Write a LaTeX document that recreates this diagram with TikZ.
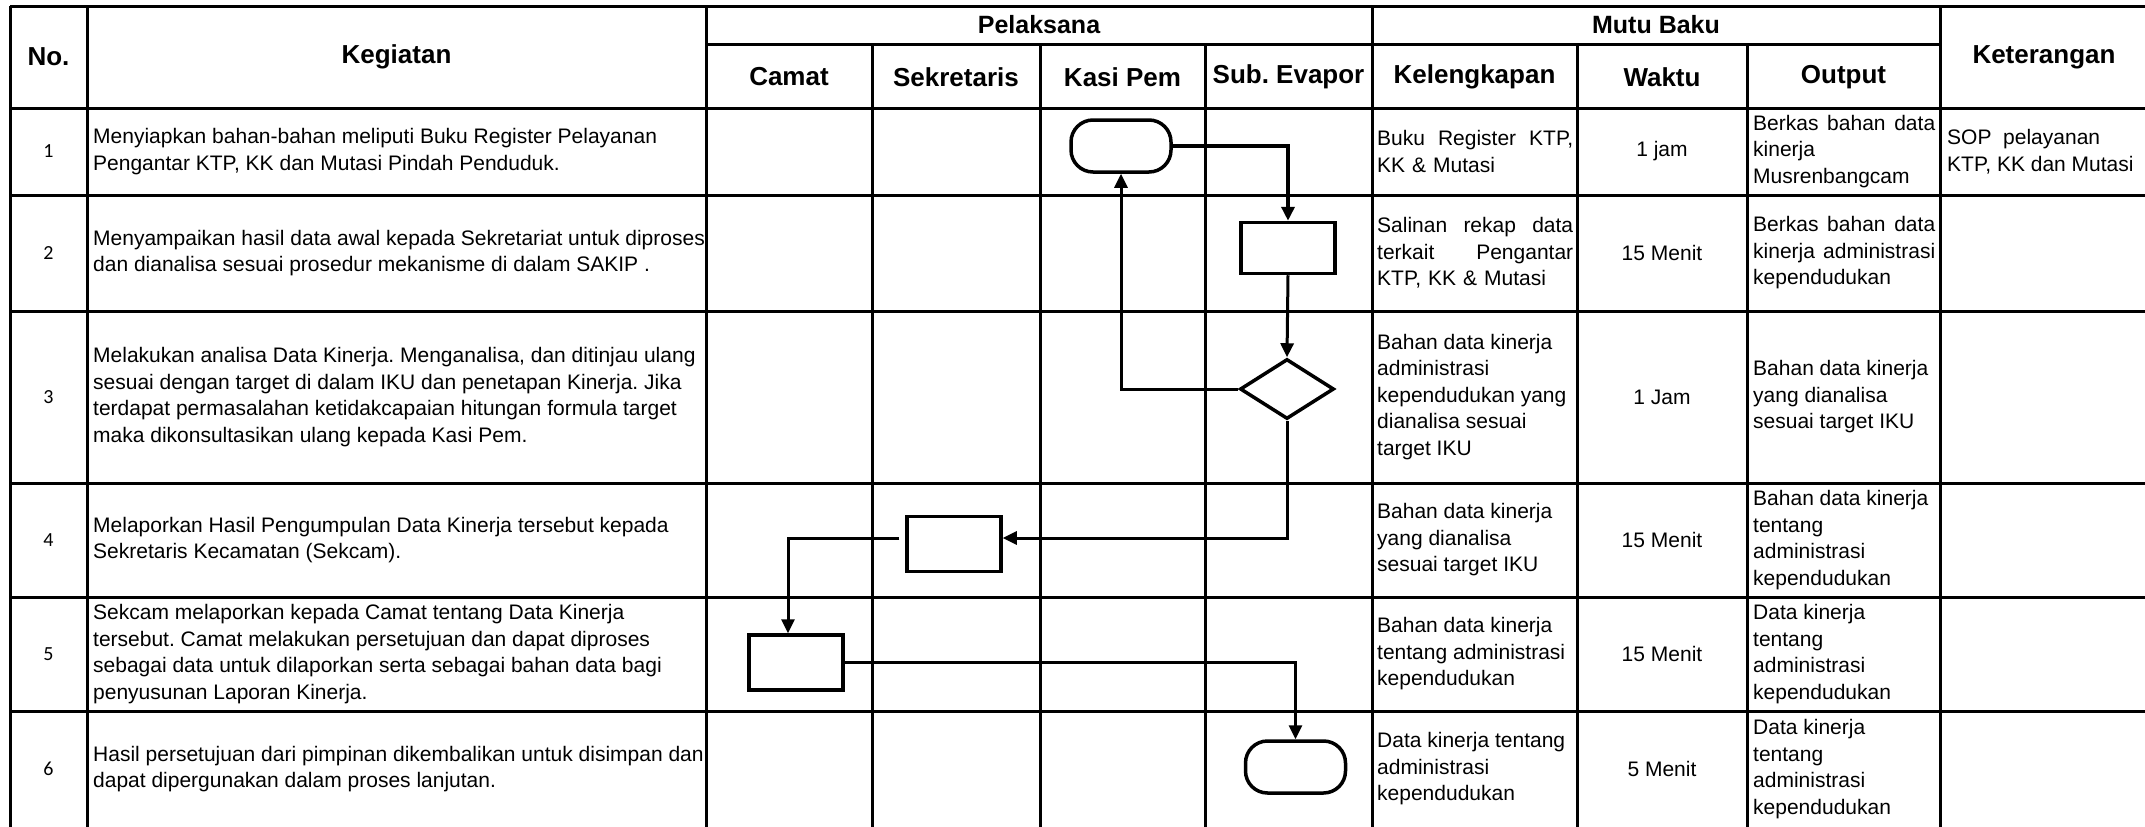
\documentclass[tikz,border=0pt]{standalone}
\usepackage{fontspec}
\setmainfont{Liberation Sans}
\newfontfamily\numfont{Carlito}
\usetikzlibrary{shapes.geometric,arrows.meta}
\frenchspacing

\begin{document}
\begin{tikzpicture}[x=1pt,y=1pt,
	grid/.style={line width=3pt},
	hdr/.style={font=\bfseries\fontsize{26}{30}\selectfont, inner sep=0pt},
	grp/.style={font=\bfseries\fontsize{25}{30}\selectfont, inner sep=0pt},
	txt/.style={font=\fontsize{21}{26.5}\selectfont, inner sep=0pt, align=left, anchor=west},
	mid/.style={font=\fontsize{21}{26.5}\selectfont, inner sep=0pt},
	num/.style={font=\numfont\fontsize{20}{24}\selectfont, inner sep=0pt},
	term/.style={draw, line width=3.5pt, rounded corners=22pt, minimum width=100pt, minimum height=52pt},
	proc/.style={draw, line width=3.5pt, minimum width=94pt, minimum height=55pt},
	decide/.style={draw, diamond, line width=3.5pt, minimum width=94pt, minimum height=60pt, inner sep=0pt},
	flow/.style={line width=3pt, -{Triangle[length=14pt,width=13pt]}}]
	
	\path[use as bounding box] (0,0) rectangle (2145,-827);
	
	\draw[grid] (10,-6) -- (2145,-6);
	\draw[grid] (706,-44) -- (1940,-44);
	\draw[grid] (10,-108) -- (2145,-108);
	\draw[grid] (10,-195) -- (2145,-195);
	\draw[grid] (10,-311) -- (2145,-311);
	\draw[grid] (10,-483) -- (2145,-483);
	\draw[grid] (10,-597) -- (2145,-597);
	\draw[grid] (10,-711) -- (2145,-711);
	
	\draw[grid] (10,-6) -- (10,-827);
	\draw[grid] (87,-6) -- (87,-827);
	\draw[grid] (706,-6) -- (706,-827);
	\draw[grid] (872,-44) -- (872,-827);
	\draw[grid] (1040,-44) -- (1040,-827);
	\draw[grid] (1205,-44) -- (1205,-827);
	\draw[grid] (1372,-6) -- (1372,-827);
	\draw[grid] (1577,-44) -- (1577,-827);
	\draw[grid] (1747,-44) -- (1747,-827);
	\draw[grid] (1940,-6) -- (1940,-827);
	
	\node[hdr] (hNo) at (48.5,-57) {No.};
	\node[hdr] (hKeg) at (396.5,-57) {Kegiatan};
	\node[grp] (hPel) at (1039,-25) {Pelaksana};
	\node[hdr] (hCam) at (789,-77) {Camat};
	\node[hdr] (hSek) at (956,-77) {Sekretaris};
	\node[hdr] (hKas) at (1122.5,-77) {Kasi Pem};
	\node[hdr] (hSub) at (1288.5,-77) {Sub. Evapor};
	\node[grp] (hMut) at (1656,-25) {Mutu Baku};
	\node[hdr] (hKel) at (1474.5,-77) {Kelengkapan};
	\node[hdr] (hWkt) at (1662,-77) {Waktu};
	\node[hdr] (hOut) at (1843.5,-77) {Output};
	\node[hdr] (hKet) at (2044,-57) {Keterangan};
	
	\node[num] (n1) at (48.5,-151.5) {1};
	\node[num] (n2) at (48.5,-253) {2};
	\node[num] (n3) at (48.5,-397) {3};
	\node[num] (n4) at (48.5,-540) {4};
	\node[num] (n5) at (48.5,-654) {5};
	\node[num] (n6) at (48.5,-769) {6};
	
	\node[txt] (keg1) at (93,-151.5) {Menyiapkan bahan-bahan meliputi Buku Register Pelayanan\\Pengantar KTP, KK dan Mutasi Pindah Penduduk.};
	\node[txt] (keg2) at (93,-253) {Menyampaikan hasil data awal kepada Sekretariat untuk diproses\\dan dianalisa sesuai prosedur mekanisme di dalam SAKIP .};
	\node[txt] (keg3) at (93,-397) {Melakukan analisa Data Kinerja. Menganalisa, dan ditinjau ulang\\sesuai dengan target di dalam IKU dan penetapan Kinerja. Jika\\terdapat permasalahan ketidakcapaian hitungan formula target\\maka dikonsultasikan ulang kepada Kasi Pem.};
	\node[txt] (keg4) at (93,-540) {Melaporkan Hasil Pengumpulan Data Kinerja tersebut kepada\\Sekretaris Kecamatan (Sekcam).};
	\node[txt] (keg5) at (93,-654) {Sekcam melaporkan kepada Camat tentang Data Kinerja\\tersebut. Camat melakukan persetujuan dan dapat diproses\\sebagai data untuk dilaporkan serta sebagai bahan data bagi\\penyusunan Laporan Kinerja.};
	\node[txt] (keg6) at (93,-769) {Hasil persetujuan dari pimpinan dikembalikan untuk disimpan dan\\dapat dipergunakan dalam proses lanjutan.};
	
	\node[txt, text width=196pt] (kel1) at (1377,-151.5) {Buku\hfill Register\hfill KTP,\\KK \& Mutasi};
	\node[txt, text width=196pt] (kel2) at (1377,-253) {Salinan\hfill rekap\hfill data\\terkait\hfill Pengantar\\KTP, KK \& Mutasi};
	\node[txt] (kel3) at (1377,-397) {Bahan data kinerja\\administrasi\\kependudukan yang\\dianalisa sesuai\\target IKU};
	\node[txt] (kel4) at (1377,-540) {Bahan data kinerja\\yang dianalisa\\sesuai target IKU};
	\node[txt] (kel5) at (1377,-654) {Bahan data kinerja\\tentang administrasi\\kependudukan};
	\node[txt] (kel6) at (1377,-769) {Data kinerja tentang\\administrasi\\kependudukan};
	
	\node[mid] (wkt1) at (1662,-151.5) {1 jam};
	\node[mid] (wkt2) at (1662,-253) {15 Menit};
	\node[mid] (wkt3) at (1662,-397) {1 Jam};
	\node[mid] (wkt4) at (1662,-540) {15 Menit};
	\node[mid] (wkt5) at (1662,-654) {15 Menit};
	\node[mid] (wkt6) at (1662,-769) {5 Menit};
	
	\node[txt, text width=182pt] (out1) at (1753,-151.5) {Berkas\hfill bahan\hfill data\\kinerja\\Musrenbangcam};
	\node[txt, text width=182pt] (out2) at (1753,-253) {Berkas\hfill bahan\hfill data\\kinerja\hfill administrasi\\kependudukan};
	\node[txt] (out3) at (1753,-397) {Bahan data kinerja\\yang dianalisa\\sesuai target IKU};
	\node[txt] (out4) at (1753,-540) {Bahan data kinerja\\tentang\\administrasi\\kependudukan};
	\node[txt] (out5) at (1753,-654) {Data kinerja\\tentang\\administrasi\\kependudukan};
	\node[txt] (out6) at (1753,-769) {Data kinerja\\tentang\\administrasi\\kependudukan};
	
	\node[txt] (ket1) at (1947,-151.5) {SOP\ \ pelayanan\\KTP, KK dan Mutasi};
	
	\node[term] (s1) at (1121,-146) {};
	\node[proc, minimum height=51pt] (s2) at (1288,-248) {};
	\node[decide] (s3) at (1287,-389) {};
	\node[proc] (s4) at (954,-544) {};
	\node[proc] (s5) at (796,-662.5) {};
	\node[term] (s6) at (1295.5,-767) {};
	
	\draw[flow, line width=4.5pt] (s1.east) -| (s2.north);
	\draw[flow] (s2.south) -- (s3.north);
	\draw[flow] (s3.west) -| (s1.south);
	\draw[flow] (s3.south) |- ([yshift=6pt]s4.east);
	\draw[flow, shorten <=6pt] ([yshift=6pt]s4.west) -| ([xshift=-8pt]s5.north);
	\draw[flow] (s5.east) -| (s6.north);
	
\end{tikzpicture}
\end{document}
